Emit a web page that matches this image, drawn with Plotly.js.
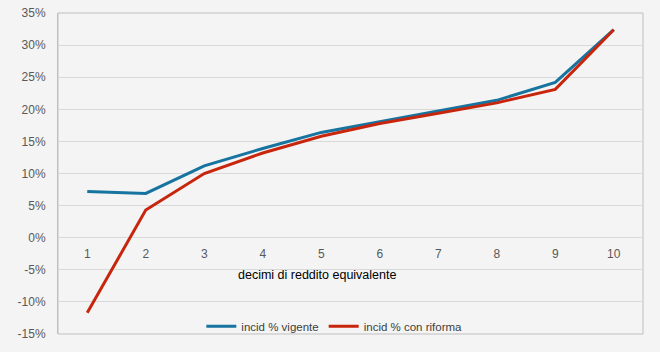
<!DOCTYPE html>
<html>
<head>
<meta charset="utf-8">
<script src="https://cdn.plot.ly/plotly-3.0.1.min.js"></script>
<style>html,body{margin:0;padding:0;background:#f4f4f4;}#chart{width:660px;height:352px;}</style>
</head>
<body>
<div id="chart"></div>
<script>
const decili = ['1','2','3','4','5','6','7','8','9','10'];
const incidVigente = [7.2, 6.9, 11.2, 13.9, 16.4, 18.1, 19.7, 21.4, 24.2, 32.4];
const incidRiforma = [-11.7, 4.3, 10.0, 13.2, 15.8, 17.8, 19.4, 21.0, 23.1, 32.4];
const yTicks = [-15, -10, -5, 0, 5, 10, 15, 20, 25, 30, 35];
const yTickText = yTicks.map(v => v + '%');
const nomeVigente = 'incid % vigente';
const nomeRiforma = 'incid % con riforma';
const titoloX = 'decimi di reddito equivalente';

const traces = [
  {x: decili, y: incidVigente, name: nomeVigente, type: 'scatter', mode: 'lines',
   line: {color: '#17739f', width: 3}},
  {x: decili, y: incidRiforma, name: nomeRiforma, type: 'scatter', mode: 'lines',
   line: {color: '#c8260c', width: 3}}
];

const layout = {
  width: 660, height: 352,
  paper_bgcolor: '#f4f4f4', plot_bgcolor: '#f4f4f4',
  margin: {l: 58, r: 17, t: 13, b: 17},
  font: {family: 'Liberation Sans, Arial, sans-serif', size: 12, color: '#595959'},
  showlegend: true,
  legend: {orientation: 'h', x: 0.245, y: 0.027, xanchor: 'left', yanchor: 'middle',
           bgcolor: 'rgba(0,0,0,0)', itemwidth: 30,
           font: {size: 11.5, color: '#404040'}},
  xaxis: {type: 'category', range: [-0.5, 9.5], anchor: 'free', position: 0.3028,
          showgrid: false, showline: false, zeroline: false, ticks: '',
          ticklabelstandoff: 8, tickfont: {size: 12, color: '#595959'}},
  yaxis: {range: [-15, 35], tickvals: yTicks, ticktext: yTickText,
          showgrid: true, gridcolor: '#d9d9d9', gridwidth: 1, zeroline: false,
          showline: true, linecolor: '#bfbfbf', ticks: '', ticklabelstandoff: 9,
          tickfont: {size: 12, color: '#595959'}},
  shapes: [{type: 'rect', xref: 'paper', yref: 'paper', x0: 0, x1: 1, y0: 0, y1: 1,
            line: {color: '#bfbfbf', width: 1}, layer: 'below'}],
  annotations: [{text: titoloX, xref: 'paper', yref: 'paper', x: 0.443, y: 0.185,
                 showarrow: false, xanchor: 'center', yanchor: 'middle',
                 font: {size: 12.5, color: '#000000'}}]
};

Plotly.newPlot('chart', traces, layout, {displayModeBar: false, staticPlot: true});
</script>
</body>
</html>
